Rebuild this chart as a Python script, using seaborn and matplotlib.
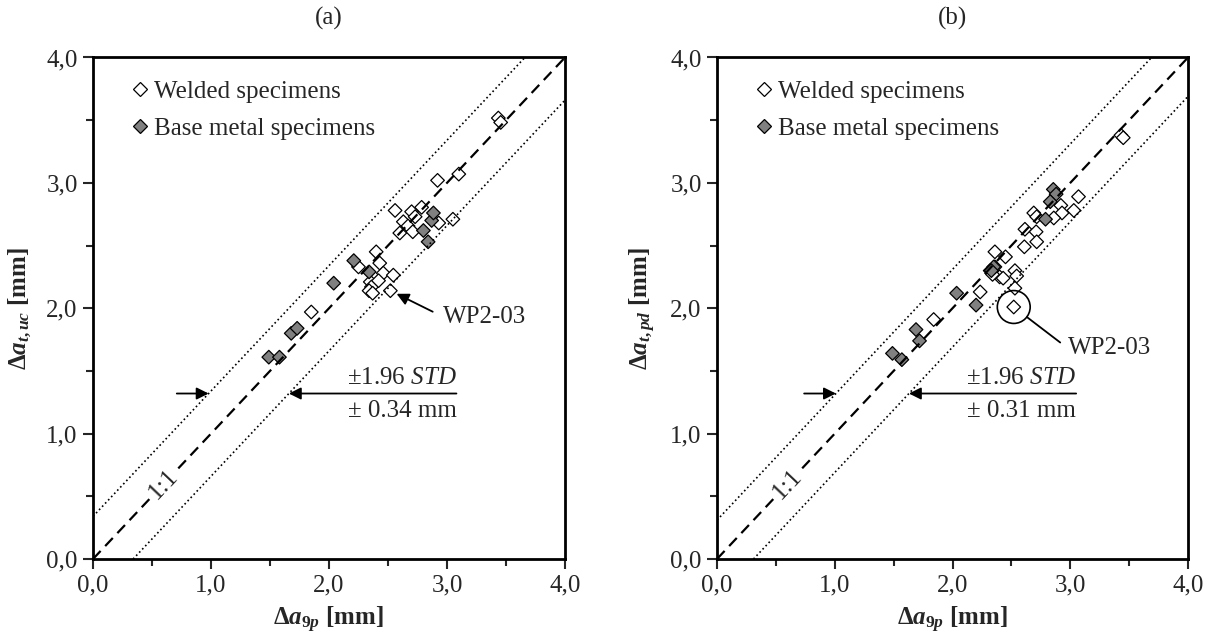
import pandas as pd
import matplotlib.pyplot as plt
import seaborn as sns
from matplotlib.ticker import MultipleLocator, FuncFormatter

# Panel (a): delta a_t,uc vs delta a_9p
welded_a_x = [3.435, 3.455, 3.10, 2.92, 2.56, 2.785, 2.70, 2.73, 2.63, 2.67, 2.71, 2.60, 2.93,
              3.05, 2.40, 2.43, 2.25, 2.46, 2.545, 2.35, 2.36, 2.34, 2.37, 2.52, 1.85, 2.42]
welded_a_y = [3.517, 3.482, 3.07, 3.02, 2.78, 2.805, 2.77, 2.73, 2.69, 2.656, 2.61, 2.60, 2.68,
              2.71, 2.45, 2.36, 2.33, 2.28, 2.264, 2.21, 2.17, 2.14, 2.12, 2.14, 1.97, 2.22]
base_a_x = [1.49, 1.58, 1.68, 1.73, 2.04, 2.21, 2.34, 2.80, 2.84, 2.87, 2.885]
base_a_y = [1.61, 1.61, 1.80, 1.84, 2.20, 2.38, 2.29, 2.62, 2.53, 2.70, 2.76]

# Panel (b): delta a_t,pd vs delta a_9p
welded_b_x = [3.43, 3.45, 3.07, 2.92, 3.03, 2.93, 2.69, 2.715, 2.86, 2.615, 2.71, 2.61, 2.715,
              2.36, 2.45, 2.40, 2.43, 2.53, 2.545, 2.53, 2.235, 2.52, 1.84, 2.32, 2.34, 2.36]
welded_b_y = [3.38, 3.36, 2.89, 2.82, 2.78, 2.76, 2.76, 2.73, 2.72, 2.63, 2.61, 2.49, 2.53,
              2.45, 2.41, 2.25, 2.24, 2.30, 2.257, 2.16, 2.13, 2.01, 1.91, 2.30, 2.27, 2.33]
base_b_x = [2.856, 2.88, 2.83, 2.79, 2.35, 2.33, 2.035, 2.20, 1.69, 1.72, 1.49, 1.57]
base_b_y = [2.948, 2.91, 2.85, 2.71, 2.33, 2.30, 2.12, 2.025, 1.83, 1.74, 1.64, 1.59]

wp_index_a = 23
wp_index_b = 21
band_a = 0.34
band_b = 0.31

labels = ["Welded specimens", "Base metal specimens"]
colors = {"Welded specimens": "white", "Base metal specimens": "#808080"}

sns.set_style("white")
plt.rcParams['font.family'] = ['Liberation Serif', 'DejaVu Serif']
plt.rcParams['mathtext.fontset'] = 'custom'
plt.rcParams['mathtext.it'] = 'Liberation Serif:italic:bold'
plt.rcParams['mathtext.rm'] = 'Liberation Serif:bold'
plt.rcParams['mathtext.sf'] = 'Liberation Serif:italic'

fig = plt.figure(figsize=(12.14, 6.43), dpi=100)
ax_a = fig.add_axes([0.0766, 0.1306, 0.3888, 0.78])
ax_b = fig.add_axes([0.5906, 0.1306, 0.3880, 0.78])

panels = [
    (ax_a, welded_a_x, welded_a_y, base_a_x, base_a_y, band_a, "(a)",
     r"$\Delta a_{t,uc}$ [mm]", wp_index_a),
    (ax_b, welded_b_x, welded_b_y, base_b_x, base_b_y, band_b, "(b)",
     r"$\Delta a_{t,pd}$ [mm]", wp_index_b),
]

fmt = FuncFormatter(lambda v, p: f"{v:.1f}".replace(".", ","))

for ax, wx, wy, bx, by, band, title, ylab, wp in panels:
    df = pd.DataFrame({
        "x": wx + bx,
        "y": wy + by,
        "type": [labels[0]] * len(wx) + [labels[1]] * len(bx),
    })
    sns.scatterplot(data=df, x="x", y="y", hue="type", hue_order=labels, palette=colors,
                    marker="D", s=48, edgecolor="black", linewidth=0.9, ax=ax, zorder=2)

    # 1:1 line and +-1.96 STD band
    ax.plot([0, 4], [0, 4], color="black", ls=(0, (5, 3)), lw=1.6, zorder=3)
    ax.plot([0, 4 - band], [band, 4], color="black", ls=":", lw=1.2, zorder=3)
    ax.plot([band, 4], [0, 4 - band], color="black", ls=":", lw=1.2, zorder=3)
    ax.text(0.6, 0.6, "1:1", rotation=46.5, ha="center", va="center", fontsize=18,
            rotation_mode="anchor", zorder=4,
            bbox=dict(facecolor="white", edgecolor="none", pad=0.5))

    # band arrows and text
    yarr = 1.32
    right = 3.08 if ax is ax_a else 3.05
    ax.annotate("", xy=(yarr - band, yarr), xytext=(yarr - band - 0.27, yarr),
                arrowprops=dict(arrowstyle="-|>", color="black", lw=1.3, mutation_scale=18,
                                shrinkA=0, shrinkB=0), zorder=4)
    ax.annotate("", xy=(yarr + band, yarr), xytext=(right, yarr),
                arrowprops=dict(arrowstyle="-|>", color="black", lw=1.3, mutation_scale=18,
                                shrinkA=0, shrinkB=0), zorder=4)
    ax.text(right, yarr + 0.12, r"±1.96 $\mathsf{STD}$", ha="right", va="center", fontsize=18)
    ax.text(right, yarr - 0.14, f"± {band:.2f} mm", ha="right", va="center", fontsize=18)

    # WP2-03 callout
    if ax is ax_a:
        ax.annotate("WP2-03", xy=(wx[wp], wy[wp]), xytext=(2.97, 1.93), fontsize=18,
                    ha="left", va="center",
                    arrowprops=dict(arrowstyle="-|>", color="black", lw=1.3, mutation_scale=18,
                                    relpos=(0, 0.5), shrinkA=6, shrinkB=5))
    else:
        ax.scatter([wx[wp]], [wy[wp]], s=560, facecolors="none", edgecolors="black",
                   linewidths=1.2, zorder=3)
        ax.annotate("WP2-03", xy=(wx[wp], wy[wp]), xytext=(2.98, 1.68), fontsize=18,
                    ha="left", va="center",
                    arrowprops=dict(arrowstyle="-", color="black", lw=1.3,
                                    relpos=(0, 0.5), shrinkA=4, shrinkB=12))

    ax.set_xlim(0, 4)
    ax.set_ylim(0, 4)
    ax.xaxis.set_major_locator(MultipleLocator(1))
    ax.yaxis.set_major_locator(MultipleLocator(1))
    ax.xaxis.set_minor_locator(MultipleLocator(0.5))
    ax.yaxis.set_minor_locator(MultipleLocator(0.5))
    ax.xaxis.set_major_formatter(fmt)
    ax.yaxis.set_major_formatter(fmt)
    ax.tick_params(which="major", direction="out", length=7, width=1.5, labelsize=18,
                   bottom=True, left=True, pad=4)
    ax.tick_params(which="minor", direction="out", length=5, width=1.5, bottom=True, left=True)
    for sp in ax.spines.values():
        sp.set_linewidth(2)
        sp.set_color("black")

    ax.set_xlabel(r"$\Delta a_{9p}$ [mm]", fontsize=18, fontweight="bold", labelpad=6)
    ax.set_ylabel(ylab, fontsize=18, fontweight="bold", labelpad=9)
    ax.set_title(title, fontsize=18, pad=24)

    sns.move_legend(ax, "upper left", bbox_to_anchor=(0.06, 0.975), frameon=False, title=None,
                    fontsize=18, handlelength=0.7, handletextpad=0.2, labelspacing=0.6,
                    borderaxespad=0)

plt.savefig("out.png", dpi=100)
